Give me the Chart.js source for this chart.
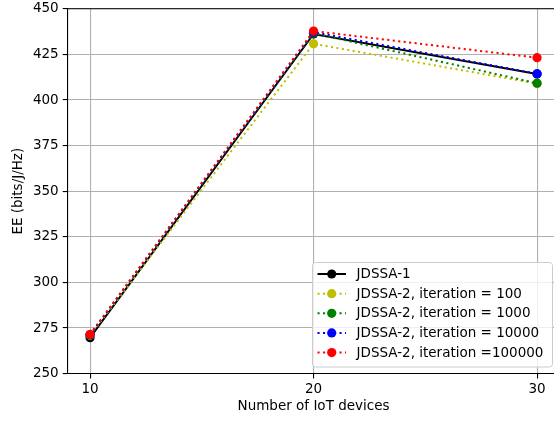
<!DOCTYPE html>
<html>
<head>
<meta charset="utf-8">
<script src="https://cdn.jsdelivr.net/npm/chart.js@4"></script>
<style>
  html, body { margin: 0; padding: 0; background: #fff; overflow: hidden; }
  #wrap { position: absolute; left: 0; top: 0; width: 580px; height: 421px; }
</style>
</head>
<body>
<div id="wrap"><canvas id="ee"></canvas></div>
<script>
// EE vs number of IoT devices
const devices = [10, 20, 30];
const xTicks = [10, 20, 30];
const yTicks = [250, 275, 300, 325, 350, 375, 400, 425, 450];

const jdssa1 = [269.7, 436.2, 414.3];
const iter100 = [271.0, 430.8, 409.0];
const iter1000 = [271.2, 436.6, 409.2];
const iter10000 = [271.3, 437.2, 414.4];
const iter100000 = [271.5, 437.8, 423.2];

const FONT = 'DejaVu Sans';
const R = 4.6;

function pts(vals) {
    return devices.map((d, i) => ({ x: d, y: vals[i] }));
}

function series(label, color, vals, dotted, order) {
    return {
        label: label,
        data: pts(vals),
        borderColor: color,
        backgroundColor: color,
        pointBackgroundColor: color,
        pointBorderWidth: 0,
        pointRadius: R,
        pointHoverRadius: R,
        borderWidth: 2,
        borderDash: dotted ? [2.1, 3.4] : [],
        borderCapStyle: 'butt',
        tension: 0,
        order: order
    };
}

// spines on top + matplotlib style legend
const frame = {
    id: 'frame',
    afterDraw(chart) {
        const ctx = chart.ctx;
        const a = chart.chartArea;
        ctx.save();
        ctx.strokeStyle = '#000';
        ctx.lineWidth = 1.1;
        ctx.beginPath();
        ctx.moveTo(a.left, a.top);
        ctx.lineTo(a.right, a.top);
        ctx.stroke();

        // legend
        const bx = 312.5, by = 262.5, bw = 240, bh = 104.5, r = 3;
        ctx.beginPath();
        ctx.moveTo(bx + r, by);
        ctx.arcTo(bx + bw, by, bx + bw, by + bh, r);
        ctx.arcTo(bx + bw, by + bh, bx, by + bh, r);
        ctx.arcTo(bx, by + bh, bx, by, r);
        ctx.arcTo(bx, by, bx + bw, by, r);
        ctx.closePath();
        ctx.fillStyle = 'rgba(255,255,255,0.8)';
        ctx.fill();
        ctx.strokeStyle = '#cccccc';
        ctx.lineWidth = 1;
        ctx.stroke();

        const sets = chart.data.datasets;
        ctx.font = '13.5px "' + FONT + '"';
        ctx.textBaseline = 'middle';
        sets.forEach((ds, i) => {
            const y = 274 + i * 19.65;
            ctx.strokeStyle = ds.borderColor;
            ctx.lineWidth = 2;
            ctx.lineCap = 'butt';
            ctx.setLineDash(ds.borderDash);
            ctx.beginPath();
            ctx.moveTo(317.5, y);
            ctx.lineTo(346, y);
            ctx.stroke();
            ctx.setLineDash([]);
            ctx.fillStyle = ds.borderColor;
            ctx.beginPath();
            ctx.arc(331.7, y, R, 0, Math.PI * 2);
            ctx.fill();
            ctx.fillStyle = '#000';
            ctx.fillText(ds.label, 356.5, y + 0.5);
        });
        ctx.restore();
    }
};

new Chart(document.getElementById('ee'), {
    type: 'line',
    data: {
        datasets: [
            series('JDSSA-1', '#000000', jdssa1, false, 5),
            series('JDSSA-2, iteration = 100', '#bfbf00', iter100, true, 4),
            series('JDSSA-2, iteration = 1000', '#008000', iter1000, true, 3),
            series('JDSSA-2, iteration = 10000', '#0000ff', iter10000, true, 2),
            series('JDSSA-2, iteration =100000', '#ff0000', iter100000, true, 1)
        ]
    },
    options: {
        responsive: true,
        maintainAspectRatio: false,
        animation: false,
        events: [],
        layout: { padding: { left: 0, top: 8.8, right: 20.6, bottom: 0 } },
        plugins: {
            legend: { display: false },
            tooltip: { enabled: false }
        },
        scales: {
            x: {
                type: 'linear',
                min: 9,
                max: 31,
                afterBuildTicks: s => { s.ticks = xTicks.map(v => ({ value: v })); },
                afterFit: s => { s.height = 47.4; s.paddingLeft = 0; s.paddingRight = 0; },
                grid: { color: '#b0b0b0', lineWidth: 1.1, tickColor: '#000', tickLength: 5 },
                border: { color: '#000', width: 1.1 },
                ticks: { color: '#000', font: { family: FONT, size: 13.5 }, padding: 3, maxRotation: 0 },
                title: { display: true, text: 'Number of IoT devices', color: '#000',
                         font: { family: FONT, size: 13.5 }, padding: { top: 0, bottom: 6 } }
            },
            y: {
                min: 250,
                max: 450,
                afterBuildTicks: s => { s.ticks = yTicks.map(v => ({ value: v })); },
                afterFit: s => { s.width = 67.7; s.paddingTop = 0; s.paddingBottom = 0; },
                grid: { color: '#b0b0b0', lineWidth: 1.1, tickColor: '#000', tickLength: 5 },
                border: { color: '#000', width: 1.1 },
                ticks: { color: '#000', font: { family: FONT, size: 13.5 }, padding: 4 },
                title: { display: true, text: 'EE (bits/J/Hz)', color: '#000',
                         font: { family: FONT, size: 13.5 }, padding: { top: 10, bottom: 0 } }
            }
        }
    },
    plugins: [frame]
});
</script>
</body>
</html>
